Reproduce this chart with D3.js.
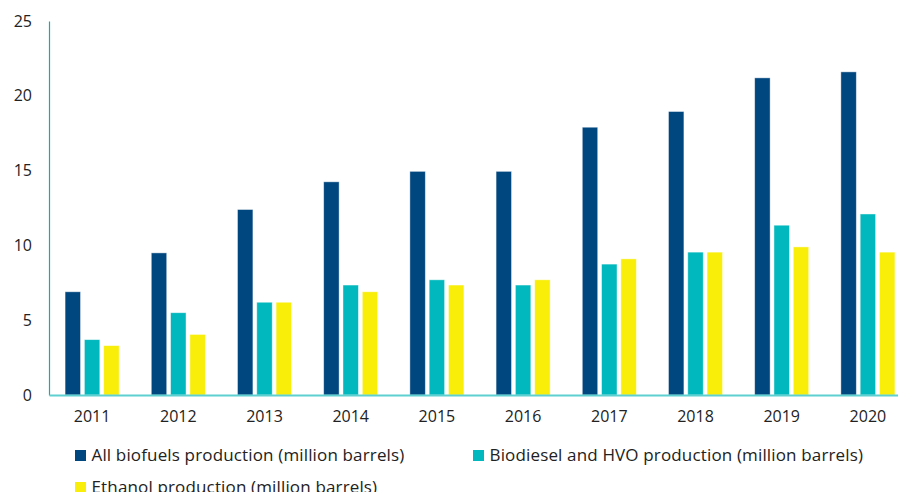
<!DOCTYPE html>
<html lang="en">
<head>
    <meta charset="UTF-8">
    <title>Biofuels production</title>
    <script src="https://d3js.org/d3.v7.min.js"></script>
    <style>
        body { margin: 0; background: #fff; }
        svg { display: block; font-family: "Open Sans", sans-serif; }
    </style>
</head>
<body>
    <svg width="898" height="492"></svg>
</body>
<script>
    let years = ['2011', '2012', '2013', '2014', '2015', '2016', '2017', '2018', '2019', '2020']
    let allBiofuels = [6.9, 9.5, 12.4, 14.25, 14.95, 14.95, 17.9, 18.95, 21.2, 21.6]
    let biodiesel = [3.7, 5.5, 6.2, 7.35, 7.7, 7.35, 8.75, 9.55, 11.35, 12.1]
    let ethanol = [3.3, 4.05, 6.2, 6.9, 7.35, 7.7, 9.1, 9.55, 9.9, 9.55]
    let seriesNames = [
        'All biofuels production (million barrels)',
        'Biodiesel and HVO production (million barrels)',
        'Ethanol production (million barrels)'
    ]
    let yTicks = [0, 5, 10, 15, 20, 25]
    let colors = ['#00467f', '#00b8bd', '#f8ee0a']

    let series = [allBiofuels, biodiesel, ethanol]
    let data = years.map((yr, i) => ({year: yr, values: series.map(s => s[i])}))

    let svg = d3.select('svg')

    let x = d3.scaleBand().domain(years).range([49, 911])
        .paddingInner(0.373).paddingOuter(0.1865)
    let xInner = d3.scaleBand().domain([0, 1, 2]).range([0, x.bandwidth()]).paddingInner(0.2)
    let y = d3.scaleLinear().domain([0, 25]).range([395, 21])

    // y axis
    let yAxis = svg.append('g')
        .attr('transform', 'translate(49,0)')
        .call(d3.axisLeft(y).tickValues(yTicks).tickSize(0).tickPadding(17))
    yAxis.select('.domain').attr('stroke', '#1aa7b3').attr('stroke-width', 1.2)
    yAxis.selectAll('text').attr('font-size', 16).attr('fill', '#222')
        .attr('font-family', '"Open Sans", sans-serif')

    // bars
    let groups = svg.append('g').selectAll('g.year')
        .data(data)
        .join('g')
        .classed('year', true)
        .attr('transform', d => `translate(${x(d.year)},0)`)

    groups.selectAll('rect')
        .data(d => d.values)
        .join('rect')
        .attr('x', (d, i) => xInner(i))
        .attr('width', xInner.bandwidth())
        .attr('y', d => y(d))
        .attr('height', d => y(0) - y(d))
        .attr('fill', (d, i) => colors[i])
        .attr('stroke', 'rgba(255,255,255,0.55)')
        .attr('stroke-width', 0.8)

    // x axis
    let xAxis = svg.append('g')
        .attr('transform', 'translate(0,395)')
        .call(d3.axisBottom(x).tickSize(0).tickPadding(16))
    xAxis.select('.domain').attr('stroke', '#5fd0d0').attr('stroke-width', 2)
    xAxis.selectAll('text').attr('font-size', 16).attr('fill', '#222')
        .attr('font-family', '"Open Sans", sans-serif')

    // legend
    let legendPos = [[75, 450], [473, 450], [75, 482]]
    let legend = svg.append('g').selectAll('g.item')
        .data(seriesNames)
        .join('g')
        .classed('item', true)
        .attr('transform', (d, i) => `translate(${legendPos[i][0]},${legendPos[i][1]})`)
    legend.append('rect')
        .attr('width', 11).attr('height', 11)
        .attr('fill', (d, i) => colors[i])
    legend.append('text')
        .attr('x', 16.5).attr('y', 10.5)
        .attr('font-size', 17).attr('fill', '#222')
        .attr('letter-spacing', 0.15)
        .text(d => d)
</script>
</html>
